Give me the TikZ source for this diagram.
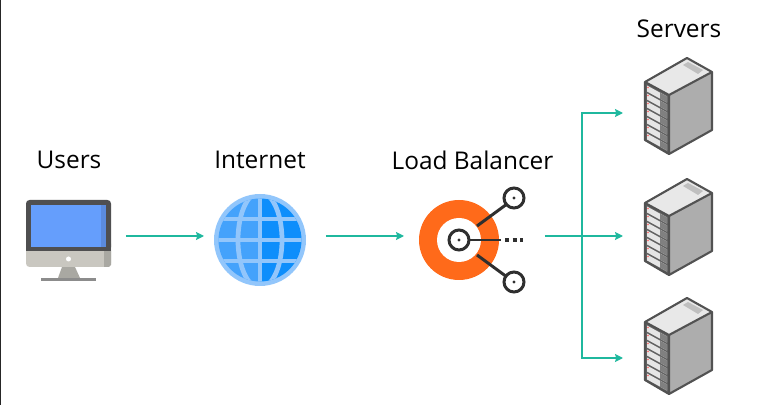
\documentclass[tikz,border=0pt]{standalone}
\usepackage{fontspec}
\setmainfont{Open Sans}
\usepackage{xcolor}
\usetikzlibrary{arrows.meta,positioning}

\definecolor{flowgreen}{HTML}{1FB89E}
\definecolor{lborange}{HTML}{FF6A1A}
\definecolor{lbdark}{HTML}{2F2F2F}
\definecolor{screenblue}{HTML}{659EFC}
\definecolor{screenedge}{HTML}{5B8BDD}
\definecolor{bezel}{HTML}{4F4F50}
\definecolor{silver}{HTML}{C9C7C0}
\definecolor{standgray}{HTML}{A9A8A2}
\definecolor{globelight}{HTML}{92C6FB}
\definecolor{globeleft}{HTML}{44A2FB}
\definecolor{globeright}{HTML}{0E8EFB}

\tikzset{
  lbl/.style={font=\fontsize{13.9}{16}\selectfont, text=black, inner sep=0pt},
  slot/.style={inner sep=0pt, outer sep=0pt, minimum height=1cm},
  flow/.style={draw=flowgreen, line width=1.35pt, -{Stealth[length=4.5pt,width=4.5pt,inset=0.6pt]}},
  ring/.style={draw=lbdark, line width=1.7pt, fill=white},
  lbline/.style={draw=lbdark, line width=1.7pt},
  gridline/.style={draw=globelight, line width=2.7pt},
  server/.pic={
    % caja
    \fill[black!32] (-18,37) -- (25,14) -- (25,72) -- (-18,96) -- cycle;
    \fill[black!9] (0,0) -- (25,14) -- (-18,37) -- (-42,24) -- cycle;
    \fill[black!25] (-4,7) -- (1,4) -- (16,12) -- (11,16) -- cycle;
    \fill[black!62] (-42,24) -- (-18,37) -- (-18,96) -- (-42,82) -- cycle;
    % bandejas
    \foreach \i in {0,...,6}{
      \fill[black!10] (-40,{27.5+8*\i}) -- (-20,{38.5+8*\i}) -- (-20,{44.5+8*\i}) -- (-40,{33.5+8*\i}) -- cycle;
      \fill[black!50] (-27,{34.7+8*\i}) -- (-20,{38.5+8*\i}) -- (-20,{44.5+8*\i}) -- (-27,{40.7+8*\i}) -- cycle;
      \fill[red!60!white] (-39,{29.5+8*\i}) circle[radius=0.9];
    }
    % contorno
    \draw[draw=black!68, line width=1.2pt, line join=round]
      (0,0) -- (25,14) -- (25,72) -- (-18,96) -- (-42,82) -- (-42,24) -- cycle
      (-42,24) -- (-18,37) -- (25,14) (-18,37) -- (-18,96);
  }
}

\begin{document}
\begin{tikzpicture}[x=0.02cm, y=-0.02cm]
\useasboundingbox (0,0) rectangle (762,405);
% borde izquierdo
\fill[black!85] (0,0) rectangle (1.5,405);

% etiquetas
\node[lbl] (usersLabel) at (69,160) {Users};
\node[lbl] (internetLabel) at (260,160) {Internet};
\node[lbl] (lbLabel) at (472.5,160) {Load Balancer};
\node[lbl] (serversLabel) at (679,29) {Servers};

% monitor
\fill[standgray] (62,267) -- (75,267) -- (80,278) -- (58,278) -- cycle;
\fill[black!45] (41,278) rectangle (96,281);
\fill[rounded corners=2pt, silver] (26,240) rectangle (111,267);
\fill[standgray] (104,251) -- (111,251) -- (111,265) -- (109,267) -- (104,267) -- cycle;
\fill[rounded corners=2pt, bezel] (26,200) rectangle (111,251);
\fill[bezel] (26,240) rectangle (111,251);
\fill[screenblue] (31,205) rectangle (106,247);
\fill[screenedge] (101,205) rectangle (106,247);
\fill[white] (68.5,259) circle[radius=2.5];

% globo
\fill[globelight] (260,240) circle[radius=46];
\begin{scope}
  \clip (260,240) circle[radius=41.5];
  \fill[globeleft] (214,190) rectangle (260,290);
  \fill[globeright] (260,190) rectangle (306,290);
  \draw[gridline] (260,240) ellipse[x radius=22, y radius=48];
  \draw[gridline] (214,219) -- (306,219) (214,240) -- (306,240) (214,261) -- (306,261);
  \draw[gridline] (260,190) -- (260,290);
\end{scope}

% balanceador
\fill[lborange] (459,240) circle[radius=40];
\fill[white] (459,240) circle[radius=22];
\draw[lbline] (477,226) -- (507,204);
\draw[lbline] (477,255) -- (507,277);
\draw[lbline] (468,240) -- (501,240);
\draw[draw=lbdark, line width=1.9pt, dash pattern=on 2.2pt off 2.2pt] (505,240) -- (523,240);
\foreach \y in {198,240,282}{
  \pgfmathsetmacro{\xc}{\y==240 ? 459 : 514}
  \draw[ring] (\xc,\y) circle[radius=10];
  \fill[lbdark] (\xc,\y) circle[radius=1.6];
}

% servidores
\foreach \y in {58,179,298}{
  \pic at (687,\y) {server};
}

% nodos para conectar
\node[slot, minimum width=2cm] (users) at (76,236) {};
\node[slot, minimum width=2.44cm] (internet) at (265,236) {};
\node[slot, minimum width=2.82cm] (lb) at (474.5,236) {};
\node[slot, minimum width=1.78cm] (srvA) at (667.5,113) {};
\node[slot, minimum width=1.78cm] (srvB) at (667.5,236) {};
\node[slot, minimum width=1.78cm] (srvC) at (667.5,358) {};
\coordinate (branch) at (582,236);

\draw[flow] (users) -- (internet);
\draw[flow] (internet) -- (lb);
\draw[flow] (lb) -- (srvB);
\draw[flow] (branch) |- (srvA);
\draw[flow] (branch) |- (srvC);
\end{tikzpicture}
\end{document}
